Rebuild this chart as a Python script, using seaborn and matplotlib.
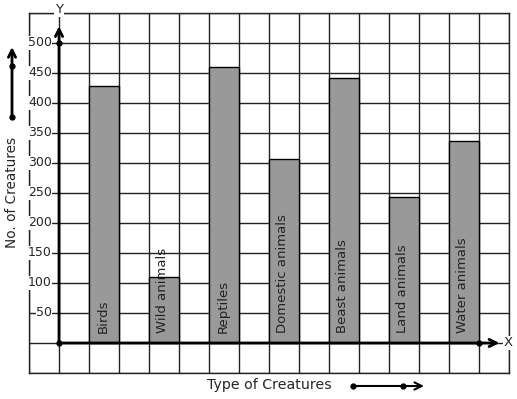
import numpy as np
import matplotlib
matplotlib.use("Agg")
import matplotlib.pyplot as plt
import seaborn as sns

# data
creatures = ["Birds", "Wild animals", "Reptiles", "Domestic animals",
             "Beast animals", "Land animals", "Water animals"]
counts = [428, 110, 460, 306, 442, 243, 337]
y_ticks = [50, 100, 150, 200, 250, 300, 350, 400, 450, 500]

sns.set_style("white")
plt.rcParams['font.family'] = ['DejaVu Sans']

fig = plt.figure(figsize=(5.17, 3.99), dpi=100)
ax = fig.add_axes([29 / 517, 26 / 399, 480 / 517, 360 / 399])

sns.barplot(x=creatures, y=counts, width=0.5, color="#999999",
            saturation=1, edgecolor="black", linewidth=1, ax=ax, zorder=2)

# grid of squares
ax.set_xlim(-1.25, 6.75)
ax.set_ylim(-50, 550)
ax.set_xticks(np.arange(-1.25, 6.76, 0.5))
ax.set_yticks(np.arange(-50, 551, 50))
ax.tick_params(length=0, labelbottom=False, labelleft=False)
ax.grid(True, color="#222222", linewidth=1)
ax.set_axisbelow(True)
ax.set_xlabel("")
ax.set_ylabel("")
for s in ax.spines.values():
    s.set_visible(True)
    s.set_color("#222222")
    s.set_linewidth(1)

# axes with arrows
y0 = -0.75
ax.annotate("", xy=(y0, 528), xytext=(y0, 0),
            arrowprops=dict(arrowstyle="->", lw=2, color="black", mutation_scale=13,
                            shrinkA=0, shrinkB=0), zorder=5)
ax.annotate("", xy=(6.59, 0), xytext=(y0, 0),
            arrowprops=dict(arrowstyle="->", lw=2, color="black", mutation_scale=13,
                            shrinkA=0, shrinkB=0), zorder=5)
ax.plot([y0, y0, 6.25], [0, 500, 0], "o", color="black", markersize=3.5, zorder=6,
        clip_on=False)
ax.text(y0, 556, "Y", ha="center", va="center", fontsize=9.5,
        bbox=dict(facecolor="white", edgecolor="none", pad=0.5))
ax.text(6.74, 0, "X", ha="center", va="center", fontsize=9.5,
        bbox=dict(facecolor="white", edgecolor="none", pad=0.5))

for v in y_ticks:
    ax.text(-0.868, v, str(v), ha="right", va="center", fontsize=9,
            bbox=dict(facecolor="white", edgecolor="none", pad=0.3), zorder=4)

# names written inside the bars
for i, name in enumerate(creatures):
    ax.text(i - 0.02, 17, name, rotation=90, ha="center", va="bottom",
            fontsize=9.5, color="#222222", zorder=4)

# labels and decorative arrows outside the grid
ov = fig.add_axes([0, 0, 1, 1])
ov.set_xlim(0, 517)
ov.set_ylim(399, 0)
ov.axis("off")
ov.patch.set_alpha(0)

ov.text(12, 192, "No. of Creatures", rotation=90, ha="center", va="center", fontsize=9.8)
ov.annotate("", xy=(12, 47), xytext=(12, 117),
            arrowprops=dict(arrowstyle="->", lw=2, color="black", mutation_scale=13,
                            shrinkA=0, shrinkB=0))
ov.plot([12, 12], [66, 117], "o", color="black", markersize=3.5)

ov.text(269, 385, "Type of Creatures", ha="center", va="center", fontsize=10.2)
ov.annotate("", xy=(424, 386), xytext=(353, 386),
            arrowprops=dict(arrowstyle="->", lw=1.5, color="black", mutation_scale=13,
                            shrinkA=0, shrinkB=0))
ov.plot([353, 403], [386, 386], "o", color="black", markersize=3.5)

fig.savefig("out.png", dpi=100)
